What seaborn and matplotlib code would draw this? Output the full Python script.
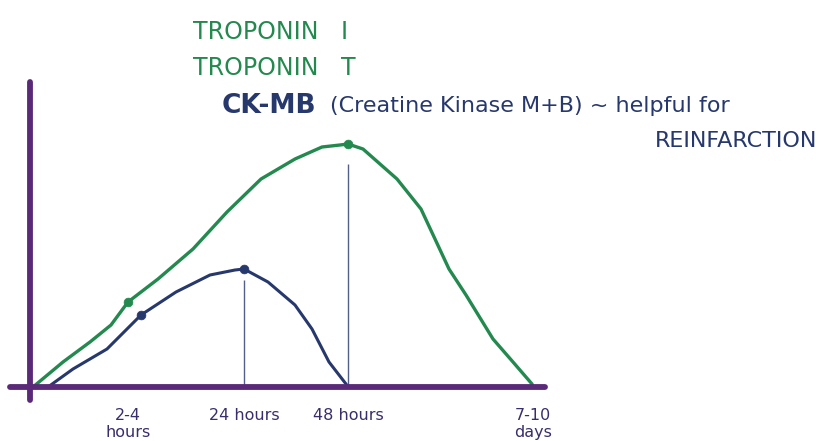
import pandas as pd
import matplotlib.pyplot as plt
import seaborn as sns

# eixo do tempo: distancia (px) a direita do eixo y; alturas em px acima do eixo x
tick_x = [98, 214, 318, 503]
tick_labels = ['2-4\nhours', '24 hours', '48 hours', '7-10\ndays']

troponin_x = [3, 33, 60, 81, 98, 128, 163, 197, 231, 265, 292, 310, 318, 333, 367, 391, 419, 436, 463, 483, 502, 503]
troponin_y = [0, 25, 45, 62, 85, 108, 138, 175, 208, 228, 240, 242, 243, 238, 208, 178, 118, 92, 48, 25, 3, 0]

ckmb_x = [18, 43, 77, 111, 146, 180, 205, 214, 238, 265, 282, 299, 316, 318]
ckmb_y = [0, 18, 38, 72, 95, 112, 117, 118, 105, 82, 58, 25, 3, 0]

# pontos marcados nas curvas
troponin_dot_x = [98, 318]
troponin_dot_y = [85, 243]
ckmb_dot_x = [111, 214]
ckmb_dot_y = [72, 118]

# linhas finas verticais em 24h e 48h
guide_x = [214, 318]
guide_top = [107, 223]

green = '#24894f'
navy = '#27386c'
purple = '#5a2a78'

sns.set_theme(style='white')
plt.rcParams['font.family'] = ['DejaVu Sans']

tro = pd.DataFrame({'x': troponin_x, 'y': troponin_y})
ck = pd.DataFrame({'x': ckmb_x, 'y': ckmb_y})

fig = plt.figure(figsize=(8.37, 4.41), dpi=100)
ax = fig.add_axes([0, 0, 1, 1])

ax.vlines(guide_x, 0, guide_top, color=navy, linewidth=1.0, alpha=0.8)

sns.lineplot(data=tro, x='x', y='y', ax=ax, color=green, linewidth=2.4,
             estimator=None, sort=False, solid_capstyle='round', solid_joinstyle='round')
sns.lineplot(data=ck, x='x', y='y', ax=ax, color=navy, linewidth=2.2,
             estimator=None, sort=False, solid_capstyle='round', solid_joinstyle='round')
sns.scatterplot(x=troponin_dot_x, y=troponin_dot_y, ax=ax, color=green, s=40,
                edgecolor=green, zorder=5)
sns.scatterplot(x=ckmb_dot_x, y=ckmb_dot_y, ax=ax, color=navy, s=40,
                edgecolor=navy, zorder=5)

ax.set_xlim(-30, 807)
ax.set_ylim(-54, 387)
ax.set_xlabel('')
ax.set_ylabel('')

# eixos desenhados a mao: espinhas no zero
for side in ['top', 'right']:
    ax.spines[side].set_visible(False)
ax.spines['left'].set_position(('data', 0))
ax.spines['bottom'].set_position(('data', 0))
ax.spines['left'].set_bounds(-13, 305)
ax.spines['bottom'].set_bounds(-20, 515)
for side in ['left', 'bottom']:
    ax.spines[side].set_color(purple)
    ax.spines[side].set_linewidth(4.2)
    ax.spines[side].set_capstyle('round')

ax.set_yticks([])
ax.set_xticks(tick_x)
ax.set_xticklabels(tick_labels, fontsize=11.5, color='#3a2d6b', linespacing=1.2)
ax.tick_params(axis='x', direction='inout', length=20, width=2, color=purple, pad=5)

# textos do titulo
fig.text(193 / 837, 1 - 32 / 441, 'TROPONIN   I', color=green, fontsize=17,
         va='center', ha='left')
fig.text(193 / 837, 1 - 68 / 441, 'TROPONIN   T', color=green, fontsize=17,
         va='center', ha='left')
fig.text(222 / 837, 1 - 106 / 441, 'CK-MB', color=navy, fontsize=19,
         va='center', ha='left', fontweight='bold')
fig.text(330 / 837, 1 - 106 / 441, '(Creatine Kinase M+B) ~ helpful for', color=navy,
         fontsize=16, va='center', ha='left')
fig.text(655 / 837, 1 - 141 / 441, 'REINFARCTION', color=navy, fontsize=16,
         va='center', ha='left')

fig.savefig('out.png', dpi=100, facecolor='white')
